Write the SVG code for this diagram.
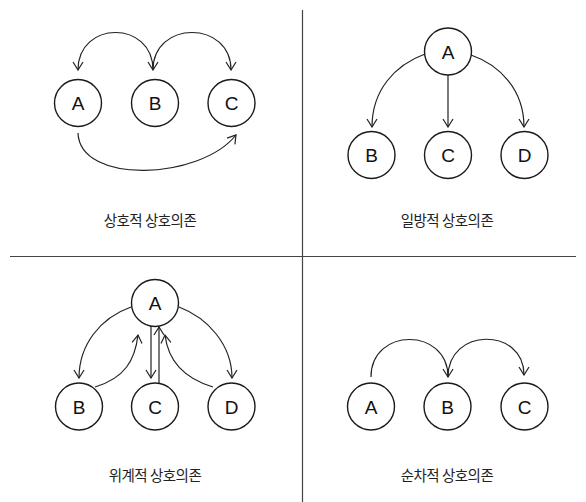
<svg xmlns="http://www.w3.org/2000/svg" width="586" height="502" viewBox="0 0 586 502">
  <style>
    .node circle { fill: #fff; stroke: #1a1a1a; stroke-width: 1.4; }
    .node text { font-family: "Liberation Sans", Arial, sans-serif; font-size: 19px; fill: #111; text-anchor: middle; }
    .edge { fill: none; stroke: #222; stroke-width: 1.2; }
    .label { font-family: "Noto Sans CJK KR", sans-serif; font-size: 14.5px; letter-spacing: -0.5px; fill: #222; text-anchor: middle; }
    .divider { stroke: #444; stroke-width: 1.2; }
  </style>
  <defs>
    <marker id="arrow" viewBox="0 0 10 12" refX="9" refY="6" markerWidth="10" markerHeight="12" markerUnits="userSpaceOnUse" orient="auto-start-reverse">
      <path d="M1,1 L9,6 L1,11" fill="none" stroke="#222" stroke-width="1.2"/>
    </marker>
  </defs>
  <rect width="586" height="502" fill="#fff"/>

  <!-- quadrant dividers -->
  <g id="dividers">
    <line class="divider" x1="302.5" y1="10" x2="302.5" y2="502"/>
    <line class="divider" x1="10" y1="256.5" x2="576" y2="256.5"/>
  </g>

  <!-- connectors -->
  <g id="connectors">
    <!-- mutual -->
    <path class="edge" d="M153,70 C153,20 78,20 78,70" marker-start="url(#arrow)" marker-end="url(#arrow)"/>
    <path class="edge" d="M153,70 C153,20 231,20 231,70" marker-end="url(#arrow)"/>
    <path class="edge" d="M78,133 C80,185 200,180 236,135" marker-end="url(#arrow)"/>
    <!-- one-way -->
    <path class="edge" d="M425,54 C395,65 372,90 372,127" marker-end="url(#arrow)"/>
    <path class="edge" d="M448,75 L448,127" marker-end="url(#arrow)"/>
    <path class="edge" d="M471,55 C500,65 524,90 524,127" marker-end="url(#arrow)"/>
    <!-- hierarchical -->
    <path class="edge" d="M131,307 C100,318 79,345 79,378" marker-end="url(#arrow)"/>
    <path class="edge" d="M95,387 C125,378 135,360 138,335" marker-end="url(#arrow)"/>
    <path class="edge" d="M151,326 L151,378" marker-end="url(#arrow)"/>
    <path class="edge" d="M159,384 L159,327" marker-end="url(#arrow)"/>
    <path class="edge" d="M213,387 C183,378 168,360 165,335" marker-end="url(#arrow)"/>
    <path class="edge" d="M179,307 C208,318 232,345 232,378" marker-end="url(#arrow)"/>
    <!-- sequential -->
    <path class="edge" d="M371,377 C371,327 448,327 448,377" marker-end="url(#arrow)"/>
    <path class="edge" d="M448,377 C448,327 524,327 524,375" marker-end="url(#arrow)"/>
  </g>

  <!-- mutual interdependence -->
  <g id="m-A" class="node"><circle cx="78" cy="103" r="23.5"/><text x="78" y="110">A</text></g>
  <g id="m-B" class="node"><circle cx="155" cy="103" r="23.5"/><text x="155" y="110">B</text></g>
  <g id="m-C" class="node"><circle cx="231.5" cy="103" r="23.5"/><text x="231.5" y="110">C</text></g>
  <text id="label-mutual" class="label" x="150" y="226">상호적 상호의존</text>

  <!-- one-way interdependence -->
  <g id="o-A" class="node"><circle cx="448" cy="51.5" r="23.5"/><text x="448" y="58.5">A</text></g>
  <g id="o-B" class="node"><circle cx="371.5" cy="155" r="23.5"/><text x="371.5" y="162">B</text></g>
  <g id="o-C" class="node"><circle cx="448" cy="155" r="23.5"/><text x="448" y="162">C</text></g>
  <g id="o-D" class="node"><circle cx="524.5" cy="155" r="23.5"/><text x="524.5" y="162">D</text></g>
  <text id="label-oneway" class="label" x="447" y="226">일방적 상호의존</text>

  <!-- hierarchical interdependence -->
  <g id="h-A" class="node"><circle cx="155" cy="303" r="23.5"/><text x="155" y="310">A</text></g>
  <g id="h-B" class="node"><circle cx="79" cy="406.5" r="23.5"/><text x="79" y="413.5">B</text></g>
  <g id="h-C" class="node"><circle cx="155" cy="406.5" r="23.5"/><text x="155" y="413.5">C</text></g>
  <g id="h-D" class="node"><circle cx="231.5" cy="406.5" r="23.5"/><text x="231.5" y="413.5">D</text></g>
  <text id="label-hier" class="label" x="155" y="481">위계적 상호의존</text>

  <!-- sequential interdependence -->
  <g id="s-A" class="node"><circle cx="371" cy="406.5" r="23.5"/><text x="371" y="413.5">A</text></g>
  <g id="s-B" class="node"><circle cx="447.5" cy="406.5" r="23.5"/><text x="447.5" y="413.5">B</text></g>
  <g id="s-C" class="node"><circle cx="524.5" cy="406.5" r="23.5"/><text x="524.5" y="413.5">C</text></g>
  <text id="label-seq" class="label" x="447" y="481">순차적 상호의존</text>
</svg>
